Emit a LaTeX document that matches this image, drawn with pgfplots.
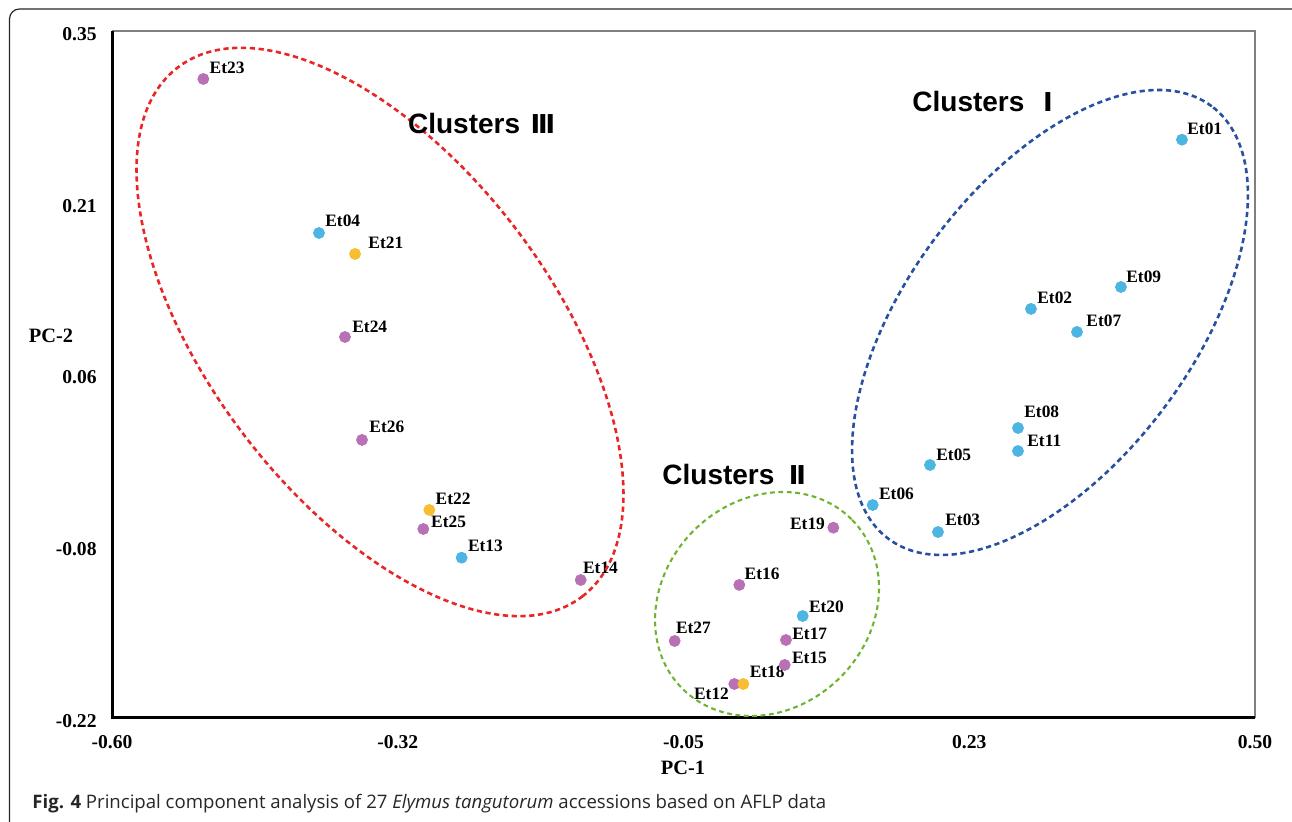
\documentclass[border=0pt]{standalone}
\usepackage{fontspec}
\setmainfont{Liberation Serif}
\newfontfamily\arialf{Liberation Sans}
\newfontfamily\capf{Open Sans}
\newfontfamily\djv{DejaVu Sans}
\usepackage{pgfplots}
\pgfplotsset{compat=1.18}
\definecolor{ptblue}{RGB}{77,181,226}
\definecolor{ptpurple}{RGB}{183,113,180}
\definecolor{ptyellow}{RGB}{246,190,48}
\definecolor{ellred}{RGB}{232,38,40}
\definecolor{ellblue}{RGB}{40,80,160}
\definecolor{ellgreen}{RGB}{110,180,50}
\newcommand\lab[5]{\node[font=\bfseries\fontsize{8.7}{9}\selectfont, inner sep=0pt, anchor=base west, xshift=#4*0.5pt, yshift=#5*0.5pt] at (axis cs:#1,#2) {#3};}
\newcommand\labr[5]{\node[font=\bfseries\fontsize{8.7}{9}\selectfont, inner sep=0pt, anchor=base east, xshift=#4*0.5pt, yshift=#5*0.5pt] at (axis cs:#1,#2) {#3};}
\begin{document}
\begin{tikzpicture}
\begin{axis}[at={(56pt,52pt)}, anchor=south west, scale only axis,
  width=571.5pt, height=343.5pt,
  xmin=-0.6, xmax=0.5, ymin=-0.22, ymax=0.35,
  xtick={-0.6,-0.325,-0.05,0.225,0.5}, xticklabels={-0.60,-0.32,-0.05,0.23,0.50},
  ytick={0.35,0.2075,0.065,-0.0775,-0.22}, yticklabels={0.35,0.21,0.06,-0.08,-0.22},
  major tick length=0pt, axis line style={draw=none},
  xticklabel style={font=\bfseries\fontsize{9.8}{10}\selectfont, inner sep=0pt, anchor=north, yshift=-8.5pt},
  yticklabel style={font=\bfseries\fontsize{9.8}{10}\selectfont, inner sep=0pt, anchor=east, xshift=-7.5pt, yshift=-1.5pt},
  clip=false,
]
% blue accessions
\addplot[only marks, mark=*, mark size=2.75pt, color=ptblue, fill=ptblue] coordinates {
 (0.4297,0.2598) (0.2844,0.1194) (0.1949,-0.0657) (-0.4008,0.1824) (0.1872,-0.0101)
 (0.1321,-0.0433) (0.3287,0.1003) (0.2719,0.0206) (0.3710,0.1376) (0.2719,0.0015)
 (-0.2635,-0.0870) (0.0647,-0.1354)};
% purple accessions
\addplot[only marks, mark=*, mark size=2.75pt, color=ptpurple, fill=ptpurple] coordinates {
 (-0.0011,-0.1918) (-0.1489,-0.1055) (0.0474,-0.1760) (0.0037,-0.1096) (0.0486,-0.1553)
 (0.0942,-0.0621) (-0.5121,0.3102) (-0.3758,0.0961) (-0.3004,-0.0632) (-0.3594,0.0107)
 (-0.0585,-0.1561)};
% yellow accessions
\addplot[only marks, mark=*, mark size=2.75pt, color=ptyellow, fill=ptyellow] coordinates {
 (0.0076,-0.1918) (-0.3661,0.1650) (-0.2946,-0.0474)};
\lab{-0.5121}{0.3102}{Et23}{6}{5}
\lab{-0.4008}{0.1824}{Et04}{6}{6}
\lab{-0.3661}{0.1650}{Et21}{13}{5}
\lab{-0.3758}{0.0961}{Et24}{7}{5}
\lab{-0.3594}{0.0107}{Et26}{7}{7}
\lab{-0.2946}{-0.0474}{Et22}{6}{5}
\lab{-0.3004}{-0.0632}{Et25}{7.5}{1}
\lab{-0.2635}{-0.0870}{Et13}{6}{6}
\lab{-0.1489}{-0.1055}{Et14}{2}{6}
\labr{0.0942}{-0.0621}{Et19}{-8}{-1.6}
\lab{0.0037}{-0.1096}{Et16}{5}{5}
\lab{0.0647}{-0.1354}{Et20}{6}{4}
\lab{-0.0585}{-0.1561}{Et27}{1}{7}
\lab{0.0486}{-0.1553}{Et17}{6}{0.7}
\lab{0.0474}{-0.1760}{Et15}{7}{1}
\lab{0.0076}{-0.1918}{Et18}{6}{6}
\labr{-0.0011}{-0.1918}{Et12}{-5}{-16}
\lab{0.1321}{-0.0433}{Et06}{6}{6}
\lab{0.1949}{-0.0657}{Et03}{7}{7}
\lab{0.1872}{-0.0101}{Et05}{6}{4}
\lab{0.2719}{0.0015}{Et11}{9}{5}
\lab{0.2719}{0.0206}{Et08}{6}{10}
\lab{0.2844}{0.1194}{Et02}{6}{5}
\lab{0.3287}{0.1003}{Et07}{9}{5}
\lab{0.3710}{0.1376}{Et09}{5}{4}
\lab{0.4297}{0.2598}{Et01}{5}{5}
\end{axis}
% plot area border
\draw[black!50, line width=0.9pt] (56pt,395.5pt) -- (627.5pt,395.5pt) -- (627.5pt,52pt);
\draw[black, line width=1.5pt] (56pt,395.5pt) -- (56pt,52pt) -- (627.5pt,52pt);
% axis titles
\node[font=\bfseries\fontsize{10.2}{11}\selectfont, inner sep=0pt] at (25.5pt,243pt) {PC-2};
\node[font=\bfseries\fontsize{10.2}{11}\selectfont, inner sep=0pt] at (341.5pt,27pt) {PC-1};
% cluster ellipses
\draw[ellred, line width=1.3pt, dash pattern=on 2.6pt off 1.8pt, rotate around={-52.6:(190pt,245pt)}] (190pt,245pt) ellipse [x radius=166.5pt, y radius=85.3pt];
\draw[ellblue, line width=1.3pt, dash pattern=on 2.6pt off 1.8pt, rotate around={53.2:(525pt,249.75pt)}] (525pt,249.75pt) ellipse [x radius=135pt, y radius=71.25pt];
\draw[ellgreen, line width=1.05pt, dash pattern=on 2.4pt off 1.8pt, rotate around={45:(383.5pt,109pt)}] (383.5pt,109pt) ellipse [x radius=59.85pt, y radius=51.85pt];
% cluster labels
\node[font=\arialf\bfseries\fontsize{14}{16}\selectfont, inner sep=0pt, anchor=base west] at (203.85pt,344.35pt) {Clusters};
\node[font=\djv\bfseries\fontsize{13}{16}\selectfont, inner sep=0pt, anchor=base] at (271.4pt,344.35pt) {Ⅲ};
\node[font=\arialf\bfseries\fontsize{14}{16}\selectfont, inner sep=0pt, anchor=base west] at (456pt,355.15pt) {Clusters};
\node[font=\djv\bfseries\fontsize{13}{16}\selectfont, inner sep=0pt, anchor=base] at (524pt,355.15pt) {Ⅰ};
\node[font=\arialf\bfseries\fontsize{14}{16}\selectfont, inner sep=0pt, anchor=base west] at (331pt,168.5pt) {Clusters};
\node[font=\djv\bfseries\fontsize{13}{16}\selectfont, inner sep=0pt, anchor=base] at (398.75pt,168.5pt) {Ⅱ};
% caption
\node[font=\capf\fontsize{9.3}{10}\selectfont, inner sep=0pt, anchor=base west, text=black!85] at (16pt,6.5pt) {\textbf{Fig. 4} Principal component analysis of 27 \textit{Elymus tangutorum} accessions based on AFLP data};
% outer frame
\draw[black!85, line width=0.6pt, rounded corners=5pt] (4.75pt,-5pt) rectangle (651pt,406.5pt);
\pgfresetboundingbox
\useasboundingbox (0,0) rectangle (646pt,411pt);
\end{tikzpicture}
\end{document}
